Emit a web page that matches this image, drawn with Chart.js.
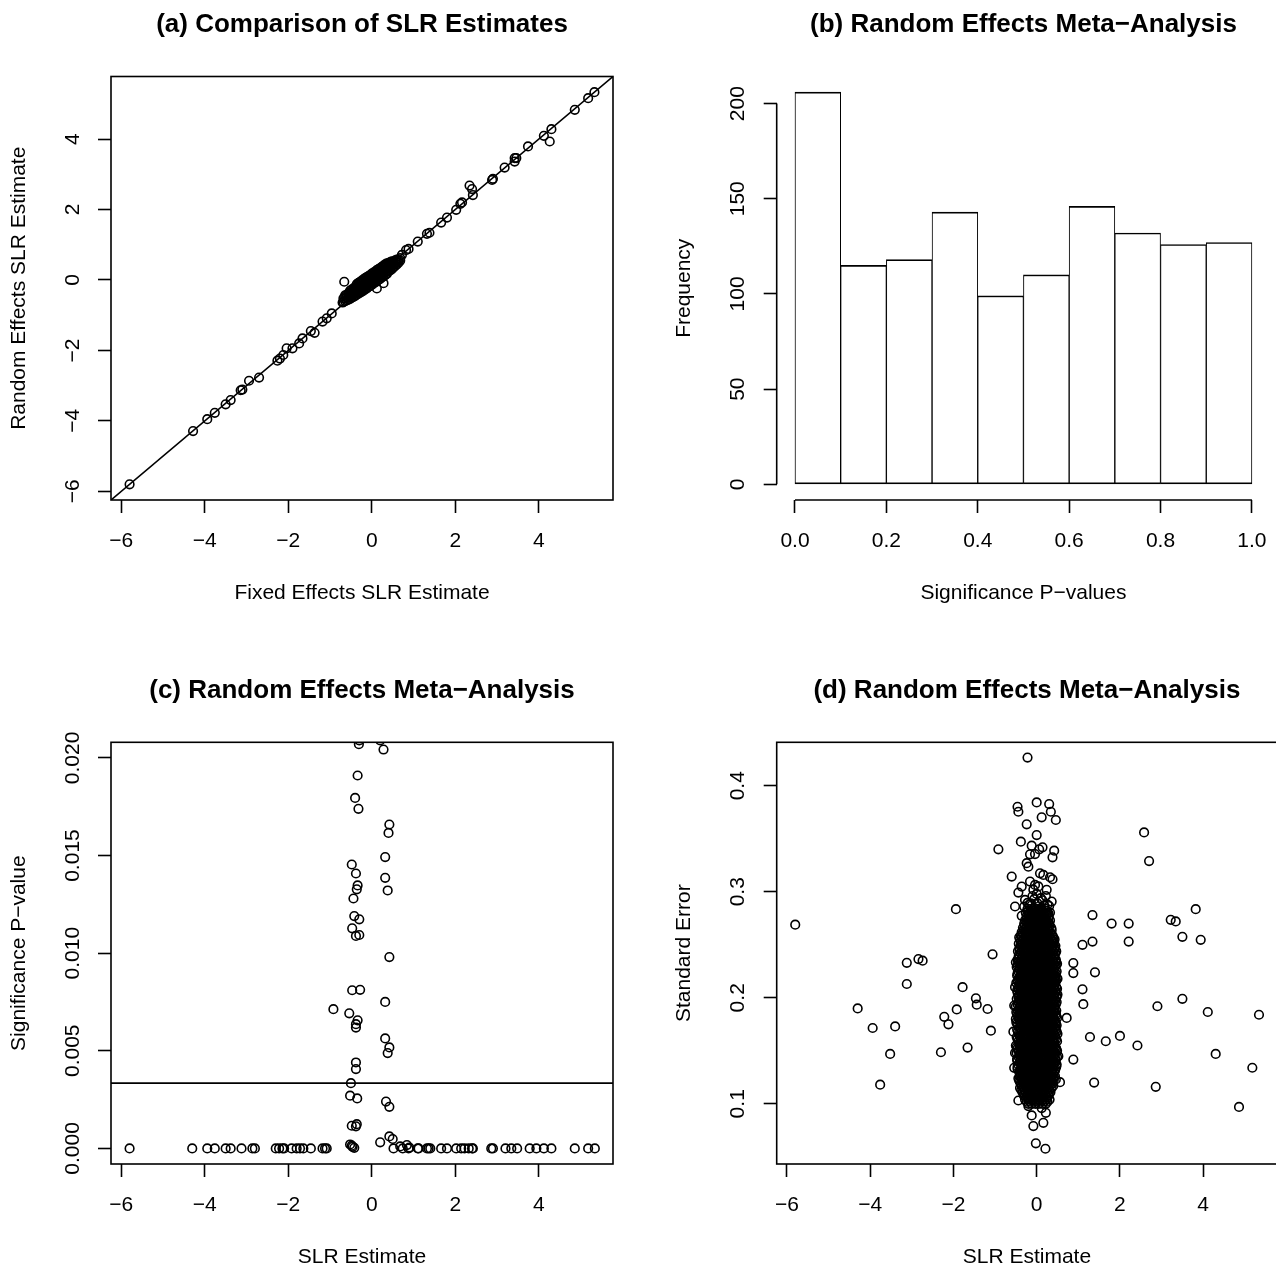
<!DOCTYPE html>
<html lang="en">
<head>
  <meta charset="UTF-8">
  <title>SLR Estimates - Random Effects Meta-Analysis</title>
  <script src="https://cdn.jsdelivr.net/npm/chart.js"></script>
  <style>
    html, body { margin: 0; padding: 0; background: #fff; overflow: hidden; }
    #wrap { position: relative; width: 1276px; height: 1268px; overflow: hidden; }
    canvas { position: absolute; }
  </style>
</head>
<body>
<div id="wrap">
  <canvas id="chartA" width="638" height="634" style="left:0;top:0"></canvas>
  <canvas id="chartB" width="645" height="634" style="left:638px;top:0"></canvas>
  <canvas id="chartC" width="638" height="634" style="left:0;top:634px"></canvas>
  <canvas id="chartD" width="645" height="634" style="left:638px;top:634px"></canvas>
</div>

<script>
  // ---- axes shared by the estimate panels ----
  const estRange = [-6.245, 5.775];
  const estTicks = [-6, -4, -2, 0, 2, 4];
  const estTickLabels = ['−6', '−4', '−2', '0', '2', '4'];

  // ---- (a) fixed vs random effects SLR estimates: [fixed, random] ----
  const aPairs = [
    [-5.80, -5.80], [-4.28, -4.29], [-3.94, -3.95], [-3.76, -3.77], [-3.50, -3.53], [-3.38, -3.41],
    [-3.14, -3.13], [-3.10, -3.11], [-2.94, -2.86], [-2.70, -2.77], [-2.26, -2.29], [-2.20, -2.23],
    [-2.12, -2.13], [-2.04, -1.94], [-1.90, -1.94], [-1.74, -1.80], [-1.66, -1.66], [-1.46, -1.45],
    [-1.37, -1.50], [-1.18, -1.18], [-1.08, -1.09], [-0.96, -0.95], [-0.66, -0.05],
    [0.72, 0.71], [0.82, 0.85], [0.88, 0.88], [1.10, 1.09], [1.32, 1.31], [1.38, 1.34], [1.66, 1.63],
    [1.80, 1.77], [2.02, 1.99], [2.12, 2.16], [2.16, 2.20], [2.34, 2.68], [2.40, 2.58], [2.42, 2.41],
    [2.88, 2.84], [2.90, 2.87], [3.18, 3.19], [3.42, 3.36], [3.46, 3.46], [3.42, 3.46], [3.74, 3.79],
    [4.12, 4.09], [4.30, 4.28], [4.26, 3.93], [4.86, 4.83], [5.18, 5.16], [5.33, 5.33],
    [0.12, -0.24], [0.28, -0.09], [-0.70, -0.64]
  ];
  // dense centre of panel (a): [fixed, random estimates at that fixed value]
  const aClusterRows = [
    [-0.68, [-0.62, -0.52]],
    [-0.64, [-0.60, -0.52, -0.44]],
    [-0.60, [-0.58, -0.50, -0.42]],
    [-0.56, [-0.56, -0.47, -0.38]],
    [-0.52, [-0.54, -0.45, -0.37, -0.30]],
    [-0.48, [-0.50, -0.42, -0.34, -0.27]],
    [-0.44, [-0.48, -0.40, -0.32, -0.24]],
    [-0.40, [-0.45, -0.37, -0.29, -0.21]],
    [-0.36, [-0.42, -0.34, -0.26, -0.18, -0.12]],
    [-0.32, [-0.39, -0.31, -0.23, -0.15, -0.08]],
    [-0.28, [-0.36, -0.28, -0.20, -0.12, -0.05]],
    [-0.24, [-0.33, -0.25, -0.17, -0.09, -0.02]],
    [-0.20, [-0.30, -0.22, -0.14, -0.06, 0.02]],
    [-0.16, [-0.27, -0.19, -0.11, -0.03, 0.05]],
    [-0.12, [-0.24, -0.16, -0.08, 0.00, 0.08]],
    [-0.08, [-0.20, -0.12, -0.04, 0.04, 0.11]],
    [-0.04, [-0.17, -0.09, -0.01, 0.07, 0.14]],
    [0.00, [-0.14, -0.06, 0.02, 0.10, 0.18]],
    [0.04, [-0.10, -0.02, 0.06, 0.13, 0.21]],
    [0.08, [-0.07, 0.01, 0.09, 0.17, 0.24]],
    [0.12, [-0.04, 0.04, 0.12, 0.20, 0.28]],
    [0.16, [0.00, 0.08, 0.16, 0.23, 0.31]],
    [0.20, [0.03, 0.11, 0.19, 0.27, 0.34]],
    [0.24, [0.07, 0.15, 0.22, 0.30, 0.37]],
    [0.28, [0.10, 0.18, 0.26, 0.34, 0.41]],
    [0.32, [0.14, 0.22, 0.29, 0.37, 0.44]],
    [0.36, [0.17, 0.25, 0.33, 0.40, 0.47]],
    [0.40, [0.24, 0.32, 0.40, 0.48]],
    [0.44, [0.27, 0.35, 0.43, 0.51]],
    [0.48, [0.31, 0.39, 0.47, 0.53]],
    [0.52, [0.36, 0.44, 0.52]],
    [0.56, [0.40, 0.48, 0.56]],
    [0.60, [0.44, 0.52, 0.58]],
    [0.64, [0.49, 0.56]],
    [0.68, [0.55, 0.62]]
  ];

  // ---- (b) histogram of p-values ----
  const pBreaks = [0, 0.1, 0.2, 0.3, 0.4, 0.5, 0.6, 0.7, 0.8, 0.9, 1.0];
  const pCounts = [206, 115, 118, 143, 99, 110, 146, 132, 126, 127];
  const pTicks = [0, 0.2, 0.4, 0.6, 0.8, 1.0];
  const pTickLabels = ['0.0', '0.2', '0.4', '0.6', '0.8', '1.0'];
  const freqTicks = [0, 50, 100, 150, 200];
  const freqTickLabels = ['0', '50', '100', '150', '200'];

  // ---- (c) estimate vs p-value (only p <= 0.02 visible): [estimate, p] ----
  const cPairs = [
    [-5.80, 0], [-4.30, 0], [-3.94, 0], [-3.76, 0], [-3.50, 0], [-3.38, 0], [-3.12, 0], [-2.86, 0], [-2.80, 0],
    [-2.30, 0], [-2.22, 0], [-2.14, 0], [-2.10, 0], [-1.92, 0], [-1.80, 0], [-1.72, 0], [-1.64, 0], [-1.46, 0],
    [-1.18, 0], [-1.12, 0], [-1.08, 0],
    [0.52, 0], [0.68, 0.0001], [0.74, 0], [0.84, 0.00017], [0.88, 0], [0.90, 0.00004], [1.10, 0], [1.12, 0],
    [1.32, 0], [1.36, 0], [1.40, 0], [1.66, 0], [1.80, 0], [2.02, 0], [2.14, 0], [2.22, 0], [2.32, 0], [2.40, 0],
    [2.42, 0], [2.86, 0], [2.90, 0], [3.20, 0], [3.34, 0], [3.48, 0], [3.78, 0], [3.94, 0], [4.12, 0], [4.30, 0],
    [4.86, 0], [5.18, 0], [5.34, 0],
    [-0.30, 0.0209], [-0.31, 0.0207], [0.20, 0.0209], [0.28, 0.02043], [-0.34, 0.0191], [-0.40, 0.01795],
    [-0.32, 0.01739], [0.42, 0.01659], [0.40, 0.01616], [0.32, 0.01492], [-0.48, 0.01454], [-0.38, 0.01408],
    [0.32, 0.01386], [-0.34, 0.01347], [-0.36, 0.01327], [0.38, 0.01321], [-0.44, 0.0128], [-0.42, 0.0119],
    [-0.30, 0.01173], [-0.47, 0.01127], [-0.38, 0.01088], [-0.30, 0.01093], [0.42, 0.0098], [-0.47, 0.0081],
    [-0.28, 0.00812], [0.32, 0.0075], [-0.92, 0.00713], [-0.54, 0.00692], [-0.34, 0.00656], [-0.38, 0.00636],
    [-0.38, 0.00619], [0.32, 0.00563], [0.42, 0.00517], [0.38, 0.00488], [-0.38, 0.0044], [-0.38, 0.00406],
    [-0.50, 0.00334], [-0.52, 0.0027], [-0.35, 0.00256], [0.34, 0.0024], [0.42, 0.00213], [-0.36, 0.00124],
    [-0.48, 0.00116], [-0.38, 0.00113], [0.42, 0.00061], [0.50, 0.00048], [0.20, 0.00031], [-0.52, 0.0002],
    [-0.48, 0.00014], [-0.42, 0.00003], [-0.46, 0.00008]
  ];
  const pCutoff = 0.00334;
  const pvalTicks = [0, 0.005, 0.01, 0.015, 0.02];
  const pvalTickLabels = ['0.000', '0.005', '0.010', '0.015', '0.020'];

  // ---- (d) estimate vs standard error: [estimate, se] ----
  const dPairs = [
    [-5.80, 0.269], [-4.30, 0.190], [-3.94, 0.1715], [-3.76, 0.118], [-3.52, 0.147], [-3.40, 0.173],
    [-3.12, 0.233], [-3.12, 0.213], [-2.84, 0.2365], [-2.74, 0.235], [-2.30, 0.1486], [-2.22, 0.182],
    [-2.12, 0.175], [-1.94, 0.2836], [-1.92, 0.189], [-1.78, 0.210], [-1.66, 0.153], [-1.46, 0.1995],
    [-1.44, 0.1935], [-1.18, 0.1894], [-1.10, 0.169], [-1.06, 0.241], [-0.92, 0.340],
    [0.72, 0.181], [0.88, 0.2327], [0.88, 0.2233], [0.88, 0.1417], [1.10, 0.250], [1.10, 0.208],
    [1.12, 0.194], [1.28, 0.163], [1.34, 0.278], [1.34, 0.253], [1.40, 0.224], [1.38, 0.120],
    [1.66, 0.159], [1.80, 0.270], [2.00, 0.164], [2.21, 0.270], [2.21, 0.253], [2.42, 0.155],
    [2.58, 0.356], [2.70, 0.329], [2.90, 0.192], [2.86, 0.116], [3.22, 0.2735], [3.34, 0.272],
    [3.50, 0.2575], [3.50, 0.199], [3.82, 0.2836], [3.94, 0.2547], [4.11, 0.1866], [4.30, 0.147],
    [4.86, 0.097], [5.18, 0.134], [5.34, 0.184],
    // upper tail of the central column
    [-0.22, 0.4266], [-0.46, 0.3802], [-0.44, 0.3755], [0.00, 0.3843], [0.30, 0.3827], [0.34, 0.3755],
    [0.12, 0.3702], [0.46, 0.3677], [-0.24, 0.3636], [0.00, 0.3535], [-0.38, 0.3473], [-0.12, 0.3435],
    [0.14, 0.3419], [0.06, 0.340], [0.42, 0.3388], [-0.04, 0.3356], [-0.16, 0.3353], [0.38, 0.3325],
    [-0.60, 0.3143], [-0.24, 0.327], [-0.20, 0.3237], [0.08, 0.3174], [0.16, 0.3159], [0.32, 0.3137],
    [0.38, 0.3118], [-0.16, 0.3096], [-0.04, 0.3065], [-0.36, 0.3049], [-0.44, 0.2992], [0.24, 0.3018],
    [-0.28, 0.2923], [0.36, 0.2908], [-0.52, 0.2861], [-0.36, 0.2773], [0.28, 0.2798], [0.32, 0.2804],
    [-0.10, 0.2960], [0.10, 0.2940], [0.02, 0.2890], [-0.18, 0.2880], [0.18, 0.2870],
    [-0.14, 0.2890], [0.06, 0.2910], [-0.06, 0.2930], [0.14, 0.2920], [-0.22, 0.2895], [0.26, 0.2880],
    [0.00, 0.2980], [-0.30, 0.2860], [0.22, 0.2960], [-0.08, 0.3020], [0.04, 0.3050], [0.30, 0.2865],
    // ragged sides and bottom tail
    [-0.50, 0.2334], [-0.54, 0.1926], [-0.56, 0.1680], [-0.54, 0.1339], [-0.52, 0.1480], [-0.44, 0.1031],
    [-0.42, 0.2570], [0.40, 0.2531], [0.46, 0.2200], [0.44, 0.2160], [0.52, 0.1449], [0.56, 0.1204],
    [0.46, 0.1229], [0.42, 0.1890], [0.46, 0.1760], [0.40, 0.1600], [-0.52, 0.2100], [-0.50, 0.1800],
    [-0.12, 0.089], [-0.08, 0.079], [0.16, 0.082], [0.22, 0.0915], [-0.02, 0.0627], [0.21, 0.0576],
    [-0.20, 0.0978], [0.12, 0.096]
  ];
  // solid core of the column: [se, estimates at that se]
  const dCoreRows = [
    [0.284, [-0.22, -0.13, -0.05, 0.04, 0.12, 0.21]],
    [0.280, [-0.26, -0.17, -0.09, 0.00, 0.08, 0.17, 0.26]],
    [0.277, [-0.24, -0.15, -0.06, 0.03, 0.11, 0.20, 0.29]],
    [0.273, [-0.28, -0.19, -0.10, -0.02, 0.07, 0.15, 0.24, 0.32]],
    [0.270, [-0.30, -0.21, -0.12, -0.04, 0.05, 0.13, 0.22, 0.30]],
    [0.266, [-0.33, -0.25, -0.16, -0.08, 0.01, 0.09, 0.18, 0.26, 0.35]],
    [0.262, [-0.36, -0.27, -0.19, -0.10, -0.02, 0.07, 0.15, 0.24, 0.32]],
    [0.259, [-0.38, -0.30, -0.21, -0.13, -0.04, 0.04, 0.13, 0.21, 0.30, 0.38]],
    [0.255, [-0.40, -0.32, -0.23, -0.15, -0.06, 0.02, 0.11, 0.19, 0.28, 0.36, 0.43]],
    [0.251, [-0.43, -0.34, -0.26, -0.17, -0.09, 0.00, 0.08, 0.17, 0.25, 0.34, 0.41]],
    [0.247, [-0.41, -0.32, -0.24, -0.15, -0.07, 0.02, 0.10, 0.19, 0.27, 0.36, 0.44]],
    [0.244, [-0.45, -0.36, -0.28, -0.19, -0.11, -0.02, 0.06, 0.15, 0.23, 0.32, 0.40, 0.47]],
    [0.240, [-0.43, -0.34, -0.26, -0.17, -0.09, 0.00, 0.08, 0.17, 0.25, 0.34, 0.42]],
    [0.236, [-0.46, -0.37, -0.29, -0.21, -0.12, -0.04, 0.05, 0.13, 0.21, 0.30, 0.38, 0.46]],
    [0.232, [-0.42, -0.33, -0.25, -0.16, -0.08, 0.01, 0.09, 0.17, 0.26, 0.34, 0.42, 0.49]],
    [0.229, [-0.48, -0.40, -0.31, -0.23, -0.14, -0.06, 0.03, 0.11, 0.19, 0.28, 0.36, 0.44]],
    [0.225, [-0.44, -0.35, -0.27, -0.18, -0.10, -0.02, 0.07, 0.15, 0.24, 0.32, 0.40, 0.48]],
    [0.221, [-0.47, -0.38, -0.30, -0.21, -0.13, -0.04, 0.04, 0.12, 0.21, 0.29, 0.37, 0.45]],
    [0.218, [-0.43, -0.34, -0.26, -0.17, -0.09, 0.00, 0.08, 0.16, 0.25, 0.33, 0.41, 0.50]],
    [0.214, [-0.49, -0.41, -0.32, -0.24, -0.15, -0.07, 0.02, 0.10, 0.18, 0.27, 0.35, 0.43]],
    [0.210, [-0.45, -0.36, -0.28, -0.19, -0.11, -0.03, 0.06, 0.14, 0.23, 0.31, 0.39, 0.47]],
    [0.207, [-0.47, -0.39, -0.30, -0.22, -0.13, -0.05, 0.04, 0.12, 0.20, 0.29, 0.37, 0.45]],
    [0.203, [-0.42, -0.34, -0.25, -0.17, -0.08, 0.00, 0.09, 0.17, 0.25, 0.34, 0.42, 0.50]],
    [0.199, [-0.48, -0.40, -0.31, -0.23, -0.14, -0.06, 0.03, 0.11, 0.19, 0.28, 0.36, 0.44]],
    [0.196, [-0.44, -0.36, -0.27, -0.19, -0.10, -0.02, 0.07, 0.15, 0.23, 0.32, 0.40, 0.48]],
    [0.192, [-0.50, -0.41, -0.33, -0.24, -0.16, -0.07, 0.01, 0.10, 0.18, 0.26, 0.35, 0.43]],
    [0.188, [-0.45, -0.37, -0.28, -0.20, -0.11, -0.03, 0.06, 0.14, 0.22, 0.31, 0.39, 0.47]],
    [0.185, [-0.47, -0.39, -0.30, -0.22, -0.13, -0.05, 0.04, 0.12, 0.21, 0.29, 0.37, 0.46]],
    [0.181, [-0.43, -0.35, -0.26, -0.18, -0.09, -0.01, 0.08, 0.16, 0.24, 0.33, 0.41, 0.49]],
    [0.177, [-0.49, -0.40, -0.32, -0.23, -0.15, -0.06, 0.02, 0.11, 0.19, 0.27, 0.36, 0.44]],
    [0.174, [-0.45, -0.36, -0.28, -0.19, -0.11, -0.02, 0.06, 0.15, 0.23, 0.31, 0.40, 0.48]],
    [0.170, [-0.47, -0.38, -0.30, -0.21, -0.13, -0.04, 0.04, 0.13, 0.21, 0.29, 0.38, 0.46]],
    [0.166, [-0.43, -0.34, -0.26, -0.17, -0.09, 0.00, 0.08, 0.17, 0.25, 0.33, 0.42, 0.50]],
    [0.163, [-0.48, -0.40, -0.31, -0.23, -0.14, -0.06, 0.03, 0.11, 0.20, 0.28, 0.36, 0.45]],
    [0.159, [-0.44, -0.36, -0.27, -0.19, -0.10, -0.02, 0.07, 0.15, 0.24, 0.32, 0.40, 0.49]],
    [0.155, [-0.50, -0.41, -0.33, -0.24, -0.16, -0.07, 0.01, 0.10, 0.18, 0.27, 0.35, 0.43]],
    [0.152, [-0.46, -0.37, -0.29, -0.20, -0.12, -0.03, 0.05, 0.14, 0.22, 0.31, 0.39, 0.47]],
    [0.148, [-0.48, -0.39, -0.31, -0.22, -0.14, -0.05, 0.03, 0.12, 0.20, 0.29, 0.37, 0.45]],
    [0.144, [-0.43, -0.35, -0.26, -0.18, -0.09, -0.01, 0.08, 0.16, 0.25, 0.33, 0.41, 0.49]],
    [0.141, [-0.47, -0.38, -0.30, -0.21, -0.13, -0.04, 0.04, 0.13, 0.21, 0.30, 0.38, 0.46]],
    [0.137, [-0.44, -0.36, -0.27, -0.19, -0.10, -0.02, 0.07, 0.15, 0.24, 0.32, 0.40, 0.48]],
    [0.133, [-0.46, -0.38, -0.29, -0.21, -0.12, -0.04, 0.05, 0.13, 0.22, 0.30, 0.38, 0.45]],
    [0.130, [-0.42, -0.34, -0.25, -0.17, -0.08, 0.00, 0.09, 0.17, 0.26, 0.34, 0.42]],
    [0.126, [-0.40, -0.31, -0.23, -0.14, -0.06, 0.03, 0.11, 0.20, 0.28, 0.37, 0.44]],
    [0.122, [-0.42, -0.33, -0.25, -0.16, -0.08, 0.01, 0.09, 0.18, 0.26, 0.35, 0.41]],
    [0.119, [-0.38, -0.30, -0.21, -0.13, -0.04, 0.04, 0.13, 0.21, 0.30, 0.38]],
    [0.115, [-0.40, -0.32, -0.23, -0.15, -0.06, 0.02, 0.11, 0.19, 0.28, 0.36]],
    [0.111, [-0.34, -0.26, -0.17, -0.09, 0.00, 0.08, 0.17, 0.25, 0.33]],
    [0.108, [-0.31, -0.22, -0.14, -0.05, 0.03, 0.12, 0.20, 0.29]],
    [0.104, [-0.28, -0.19, -0.11, -0.02, 0.06, 0.15, 0.23, 0.31]],
    [0.100, [-0.20, -0.12, -0.03, 0.05, 0.14, 0.22]],
    // in-between rows of the same column
    [0.282, [-0.21, -0.12, -0.04, 0.05, 0.13, 0.22]],
    [0.2785, [-0.20, -0.11, -0.02, 0.06, 0.15, 0.24]],
    [0.275, [-0.23, -0.14, -0.06, 0.03, 0.11, 0.20, 0.28]],
    [0.2715, [-0.25, -0.16, -0.08, 0.01, 0.09, 0.18, 0.27]],
    [0.268, [-0.29, -0.20, -0.12, -0.03, 0.05, 0.14, 0.22, 0.31]],
    [0.264, [-0.31, -0.23, -0.14, -0.06, 0.03, 0.11, 0.20, 0.28, 0.36]],
    [0.2605, [-0.34, -0.25, -0.17, -0.08, 0.00, 0.09, 0.17, 0.26, 0.34]],
    [0.257, [-0.36, -0.27, -0.19, -0.10, -0.02, 0.07, 0.15, 0.24, 0.32, 0.40]],
    [0.253, [-0.38, -0.29, -0.21, -0.12, -0.04, 0.05, 0.13, 0.22, 0.30, 0.38]],
    [0.249, [-0.39, -0.30, -0.22, -0.13, -0.05, 0.04, 0.12, 0.21, 0.29, 0.38, 0.45]],
    [0.2455, [-0.41, -0.32, -0.24, -0.15, -0.07, 0.02, 0.10, 0.19, 0.27, 0.36, 0.43]],
    [0.242, [-0.39, -0.30, -0.22, -0.13, -0.05, 0.04, 0.12, 0.21, 0.29, 0.38, 0.45]],
    [0.238, [-0.42, -0.33, -0.25, -0.16, -0.08, 0.01, 0.09, 0.17, 0.26, 0.34, 0.42]],
    [0.234, [-0.44, -0.35, -0.27, -0.18, -0.10, -0.02, 0.07, 0.15, 0.24, 0.32, 0.40, 0.47]],
    [0.2305, [-0.46, -0.37, -0.29, -0.20, -0.12, -0.03, 0.05, 0.13, 0.22, 0.30, 0.39, 0.46]],
    [0.227, [-0.42, -0.34, -0.25, -0.17, -0.08, 0.00, 0.09, 0.17, 0.26, 0.34, 0.42]],
    [0.223, [-0.46, -0.38, -0.29, -0.21, -0.12, -0.04, 0.05, 0.13, 0.22, 0.30, 0.38, 0.46]],
    [0.2195, [-0.41, -0.33, -0.24, -0.16, -0.07, 0.01, 0.10, 0.18, 0.27, 0.35, 0.43]],
    [0.216, [-0.45, -0.37, -0.28, -0.20, -0.11, -0.03, 0.06, 0.14, 0.22, 0.31, 0.39, 0.47]],
    [0.212, [-0.41, -0.32, -0.24, -0.15, -0.07, 0.02, 0.10, 0.19, 0.27, 0.35, 0.43]],
    [0.2085, [-0.43, -0.34, -0.26, -0.17, -0.09, 0.00, 0.08, 0.16, 0.25, 0.33, 0.41, 0.49]],
    [0.205, [-0.46, -0.38, -0.29, -0.21, -0.12, -0.04, 0.05, 0.13, 0.21, 0.30, 0.38, 0.46]],
    [0.201, [-0.44, -0.36, -0.27, -0.19, -0.10, -0.02, 0.06, 0.15, 0.23, 0.32, 0.40, 0.48]],
    [0.1975, [-0.40, -0.32, -0.23, -0.15, -0.06, 0.02, 0.11, 0.19, 0.27, 0.36, 0.44]],
    [0.194, [-0.46, -0.38, -0.29, -0.21, -0.12, -0.04, 0.05, 0.13, 0.22, 0.30, 0.38, 0.46]],
    [0.190, [-0.41, -0.33, -0.24, -0.16, -0.07, 0.01, 0.10, 0.18, 0.26, 0.35, 0.43]],
    [0.1865, [-0.49, -0.41, -0.32, -0.24, -0.15, -0.07, 0.02, 0.10, 0.18, 0.27, 0.35, 0.43]],
    [0.183, [-0.45, -0.37, -0.28, -0.20, -0.11, -0.03, 0.06, 0.14, 0.22, 0.31, 0.39, 0.47]],
    [0.179, [-0.41, -0.32, -0.24, -0.15, -0.07, 0.02, 0.10, 0.19, 0.27, 0.35, 0.43]],
    [0.1755, [-0.47, -0.38, -0.30, -0.21, -0.13, -0.04, 0.04, 0.13, 0.21, 0.29, 0.38, 0.46]],
    [0.172, [-0.41, -0.32, -0.24, -0.15, -0.07, 0.02, 0.10, 0.19, 0.27, 0.35, 0.44]],
    [0.168, [-0.45, -0.36, -0.28, -0.19, -0.11, -0.02, 0.06, 0.15, 0.23, 0.31, 0.40, 0.48]],
    [0.1645, [-0.40, -0.32, -0.23, -0.15, -0.06, 0.02, 0.11, 0.19, 0.27, 0.36, 0.44]],
    [0.161, [-0.46, -0.38, -0.29, -0.21, -0.12, -0.04, 0.05, 0.13, 0.22, 0.30, 0.38, 0.47]],
    [0.157, [-0.42, -0.33, -0.25, -0.16, -0.08, 0.01, 0.09, 0.18, 0.26, 0.34, 0.43]],
    [0.1535, [-0.48, -0.39, -0.31, -0.22, -0.14, -0.05, 0.03, 0.12, 0.20, 0.28, 0.37, 0.45]],
    [0.150, [-0.44, -0.35, -0.27, -0.18, -0.10, -0.01, 0.07, 0.16, 0.24, 0.33, 0.41, 0.49]],
    [0.146, [-0.41, -0.33, -0.24, -0.16, -0.07, 0.01, 0.10, 0.18, 0.27, 0.35, 0.43]],
    [0.1425, [-0.47, -0.39, -0.30, -0.22, -0.13, -0.05, 0.04, 0.12, 0.21, 0.29, 0.37, 0.45]],
    [0.139, [-0.41, -0.32, -0.24, -0.15, -0.07, 0.02, 0.10, 0.19, 0.27, 0.35, 0.44]],
    [0.135, [-0.46, -0.37, -0.29, -0.20, -0.12, -0.03, 0.05, 0.14, 0.22, 0.31, 0.39, 0.47]],
    [0.1315, [-0.40, -0.31, -0.23, -0.14, -0.06, 0.03, 0.11, 0.20, 0.28, 0.36, 0.44]],
    [0.128, [-0.38, -0.29, -0.21, -0.12, -0.04, 0.05, 0.13, 0.22, 0.30, 0.39]],
    [0.124, [-0.44, -0.36, -0.27, -0.19, -0.10, -0.02, 0.07, 0.15, 0.24, 0.32, 0.40]],
    [0.1205, [-0.40, -0.32, -0.23, -0.15, -0.06, 0.02, 0.11, 0.19, 0.28, 0.36]],
    [0.117, [-0.36, -0.27, -0.19, -0.10, -0.02, 0.07, 0.15, 0.24, 0.32, 0.40]],
    [0.113, [-0.37, -0.29, -0.20, -0.12, -0.03, 0.05, 0.14, 0.22, 0.31]],
    [0.1095, [-0.30, -0.21, -0.13, -0.04, 0.04, 0.13, 0.21, 0.29]],
    [0.106, [-0.26, -0.18, -0.09, -0.01, 0.08, 0.16, 0.25]],
    [0.102, [-0.24, -0.16, -0.07, 0.01, 0.10, 0.18, 0.26]]
  ];
  const seTicks = [0.1, 0.2, 0.3, 0.4];
  const seTickLabels = ['0.1', '0.2', '0.3', '0.4'];

  // ---------------------------------------------------------------
  const FONT = "'Liberation Sans', Arial, Helvetica, sans-serif";
  const LW = 1.6; // R lwd = 1 at this size
  Chart.defaults.font.family = FONT;
  Chart.defaults.color = '#000';

  const tickGrid = { drawOnChartArea: false, drawTicks: true, tickLength: 13, tickWidth: LW, tickColor: '#000' };

  function xAxis(range, ticks, labels, title) {
    return {
      type: 'linear', position: 'bottom', min: range[0], max: range[1], offset: false,
      grid: Object.assign({ offset: false }, tickGrid),
      border: { display: false },
      ticks: { font: { size: 21 }, color: '#000', padding: 16, maxRotation: 0, minRotation: 0, autoSkip: false,
               callback: (v, i) => labels[i] },
      title: { display: true, text: title, color: '#000', font: { size: 21, lineHeight: 1 }, padding: { top: 0, bottom: 0 } },
      afterBuildTicks: s => { s.ticks = ticks.map(v => ({ value: v })); },
      afterFit: s => { s.height = 104; }
    };
  }

  function yAxis(range, ticks, title) {
    return {
      type: 'linear', position: 'left', min: range[0], max: range[1],
      grid: tickGrid,
      border: { display: false },
      ticks: { display: false },
      title: { display: true, text: title, color: '#000', font: { size: 21, lineHeight: 1 }, padding: { top: 8.5, bottom: 0 } },
      afterBuildTicks: s => { s.ticks = ticks.map(v => ({ value: v })); },
      afterFit: s => { s.width = 111; }
    };
  }

  // box (or R hist-style axis lines) plus y tick labels read along the axis
  const rFrame = {
    id: 'rFrame',
    afterDraw(chart, args, o) {
      const { ctx, chartArea: ca, scales: { x, y } } = chart;
      ctx.save();
      ctx.strokeStyle = '#000';
      ctx.lineWidth = LW;
      if (o.box) {
        ctx.strokeRect(ca.left, ca.top, ca.right - ca.left, ca.bottom - ca.top);
      } else {
        const xt = x.ticks, yt = y.ticks;
        ctx.beginPath();
        ctx.moveTo(x.getPixelForValue(xt[0].value), ca.bottom);
        ctx.lineTo(x.getPixelForValue(xt[xt.length - 1].value), ca.bottom);
        ctx.moveTo(ca.left, y.getPixelForValue(yt[0].value));
        ctx.lineTo(ca.left, y.getPixelForValue(yt[yt.length - 1].value));
        ctx.stroke();
      }
      ctx.fillStyle = '#000';
      ctx.font = '21px ' + FONT;
      ctx.textAlign = 'center';
      ctx.textBaseline = 'middle';
      y.ticks.forEach((t, i) => {
        ctx.save();
        ctx.translate(ca.left - 38, y.getPixelForValue(t.value));
        ctx.rotate(-Math.PI / 2);
        ctx.fillText(o.labels[i], 0, 0);
        ctx.restore();
      });
      ctx.restore();
    }
  };

  function baseOptions(title, titleTop, pad, scales, frame) {
    return {
      responsive: false,
      animation: false,
      events: [],
      layout: { padding: pad },
      scales: scales,
      plugins: {
        legend: { display: false },
        tooltip: { enabled: false },
        title: { display: true, text: title, color: '#000', fullSize: false,
                 font: { size: 26, weight: 'bold', lineHeight: 1 }, padding: { top: titleTop, bottom: 38.3 } },
        rFrame: frame
      }
    };
  }

  function circles(points) {
    return {
      type: 'scatter',
      data: points.map(p => ({ x: p[0], y: p[1] })),
      pointStyle: 'circle',
      pointRadius: 4.3,
      pointBorderWidth: LW,
      pointBorderColor: '#000',
      pointBackgroundColor: 'rgba(0,0,0,0)',
      clip: 0
    };
  }

  function refLine(points) {
    return {
      type: 'line',
      data: points,
      borderColor: '#000',
      borderWidth: LW,
      pointRadius: 0,
      clip: 0
    };
  }

  // (a)
  const aCluster = [];
  aClusterRows.forEach(r => r[1].forEach(v => aCluster.push([r[0], v])));
  new Chart(document.getElementById('chartA'), {
    type: 'scatter',
    data: {
      datasets: [
        refLine([{ x: estRange[0], y: estRange[0] }, { x: estRange[1], y: estRange[1] }]),
        circles(aPairs.concat(aCluster))
      ]
    },
    options: baseOptions('(a) Comparison of SLR Estimates', 12.2, { left: 0, right: 25, top: 0, bottom: 30 }, {
      x: xAxis(estRange, estTicks, estTickLabels, 'Fixed Effects SLR Estimate'),
      y: yAxis(estRange, estTicks, 'Random Effects SLR Estimate')
    }, { box: true, labels: estTickLabels }),
    plugins: [rFrame]
  });

  // (b)
  new Chart(document.getElementById('chartB'), {
    type: 'bar',
    data: {
      datasets: [{
        data: pCounts.map((c, i) => ({ x: (pBreaks[i] + pBreaks[i + 1]) / 2, y: c })),
        backgroundColor: '#fff',
        borderColor: '#000',
        borderWidth: { top: LW, bottom: LW, left: LW / 2 + 0.2, right: LW / 2 + 0.2 },
        borderSkipped: false,
        barPercentage: 1,
        categoryPercentage: 1
      }]
    },
    options: baseOptions('(b) Random Effects Meta−Analysis', 12.2, { left: 27.7, right: 4.4, top: 0, bottom: 30 }, {
      x: xAxis([-0.04, 1.04], pTicks, pTickLabels, 'Significance P−values'),
      y: yAxis([-8.24, 214.24], freqTicks, 'Frequency')
    }, { box: false, labels: freqTickLabels }),
    plugins: [rFrame]
  });

  // (c)
  new Chart(document.getElementById('chartC'), {
    type: 'scatter',
    data: {
      datasets: [
        refLine([{ x: estRange[0], y: pCutoff }, { x: estRange[1], y: pCutoff }]),
        circles(cPairs)
      ]
    },
    options: baseOptions('(c) Random Effects Meta−Analysis', 44.0, { left: 0, right: 25, top: 0, bottom: 0 }, {
      x: xAxis(estRange, estTicks, estTickLabels, 'SLR Estimate'),
      y: yAxis([-0.0008, 0.0208], pvalTicks, 'Significance P−value')
    }, { box: true, labels: pvalTickLabels }),
    plugins: [rFrame]
  });

  // (d)
  const dCore = [];
  dCoreRows.forEach(r => r[1].forEach(e => dCore.push([e, r[0]])));
  new Chart(document.getElementById('chartD'), {
    type: 'scatter',
    data: { datasets: [circles(dPairs.concat(dCore))] },
    options: baseOptions('(d) Random Effects Meta−Analysis', 44.0, { left: 27.7, right: 4.4, top: 0, bottom: 0 }, {
      x: xAxis(estRange, estTicks, estTickLabels, 'SLR Estimate'),
      y: yAxis([0.0432, 0.4410], seTicks, 'Standard Error')
    }, { box: true, labels: seTickLabels }),
    plugins: [rFrame]
  });
</script>
</body>
</html>
